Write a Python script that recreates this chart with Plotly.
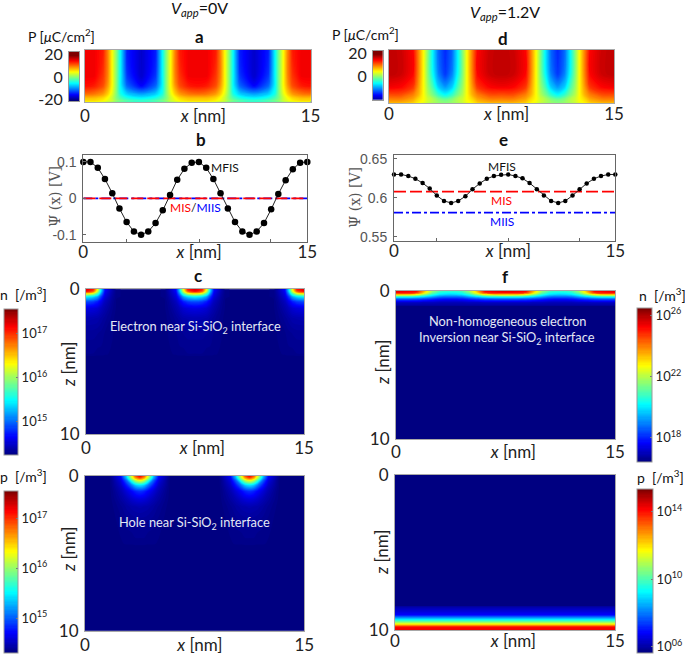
import plotly.graph_objects as go

W, H = 685, 654
FONT = "Lato"
JET = [[0, "rgb(0,0,125)"], [0.125, "rgb(0,0,255)"], [0.375, "rgb(0,255,255)"],
       [0.625, "rgb(255,255,0)"], [0.875, "rgb(255,0,0)"], [1, "rgb(127,0,0)"]]

# ---------- data ----------
# P maps: rows by depth, columns by distance from a polarisation peak (0..3.75 nm)
P_A_D = [0, .6, 1.2, 1.5, 1.8, 2.1, 2.35, 2.8, 3.75]
P_A_Z = [0, .5, .7, .85, .93, 1]
P_A = [[15.5, 15.5, 14, 10, 5, 0, -5, -14, -17],
       [15.5, 15.5, 13, 10, 5, 0, -5, -13, -17],
       [14.5, 14, 12, 9, 5, 0, -5, -11, -15],
       [11, 10.5, 9, 7, 4, 0, -4, -7, -9],
       [7.5, 7.5, 6.5, 5, 3, 0, -2, -4, -5.5],
       [6, 6, 5, 4, 3, 1, 0, -1, -2]]
P_D_D = [0, .8, 1.6, 1.95, 2.3, 2.6, 2.9, 3.3, 3.75]
P_D_Z = [0, .45, .7, .85, .93, 1]
P_D = [[17.5, 17, 15, 10, 5, 0, -5, -11, -13.5],
       [17.5, 17, 15, 10, 5, 0, -4.5, -10, -13],
       [15.5, 15, 13, 9, 5, 1, -2, -7, -9],
       [12, 12, 10, 8, 5, 2, 0, -3, -5],
       [10, 10, 8.5, 6.5, 5, 3, 2, 0, -1],
       [8, 8, 7, 5.5, 4.5, 3, 2, 1, .5]]

# log10 carrier density; columns by distance from a peak
N_C_D = [0, .5, .8, 1.05, 1.3, 1.8, 2.1, 3.75]
N_C_Z = [0, .15, .3, .5, .85, 1.3, 2, 3, 4.5, 4.7, 10]
N_C = [[17.3, 17.1, 16.3, 15.4, 14.7, 14.4, 14.28, 14.255],
       [17.1, 16.8, 16.1, 15.3, 14.65, 14.4, 14.28, 14.255],
       [16.3, 16.1, 15.7, 15.1, 14.6, 14.38, 14.28, 14.255],
       [15.5, 15.4, 15.2, 14.85, 14.55, 14.36, 14.28, 14.255],
       [14.9, 14.85, 14.75, 14.6, 14.46, 14.33, 14.27, 14.255],
       [14.58, 14.56, 14.52, 14.46, 14.4, 14.31, 14.27, 14.255],
       [14.42, 14.41, 14.4, 14.37, 14.34, 14.29, 14.26, 14.255],
       [14.34, 14.34, 14.33, 14.32, 14.3, 14.28, 14.26, 14.255],
       [14.3, 14.3, 14.29, 14.29, 14.28, 14.27, 14.26, 14.255],
       [14.255, 14.255, 14.255, 14.255, 14.255, 14.255, 14.255, 14.255],
       [14.255, 14.255, 14.255, 14.255, 14.255, 14.255, 14.255, 14.255]]
P_C_D = [0, .3, .55, .9, 1.3, 1.9, 2.1, 3.75]
P_C_Z = [0, .15, .3, .6, 1, 1.5, 2, 3, 4.4, 4.6, 10]
P_C = [[17.2, 16.9, 16.3, 15.4, 14.7, 14.38, 14.3, 14.295],
       [16.9, 16.6, 16.1, 15.3, 14.65, 14.38, 14.3, 14.295],
       [16.3, 16.1, 15.7, 15.05, 14.6, 14.36, 14.3, 14.295],
       [15.45, 15.35, 15.1, 14.8, 14.52, 14.35, 14.3, 14.295],
       [14.85, 14.8, 14.7, 14.58, 14.45, 14.33, 14.3, 14.295],
       [14.6, 14.58, 14.54, 14.47, 14.4, 14.32, 14.3, 14.295],
       [14.45, 14.44, 14.43, 14.4, 14.36, 14.31, 14.3, 14.295],
       [14.37, 14.37, 14.36, 14.35, 14.33, 14.3, 14.3, 14.295],
       [14.33, 14.33, 14.32, 14.32, 14.31, 14.3, 14.3, 14.295],
       [14.295, 14.295, 14.295, 14.295, 14.295, 14.295, 14.295, 14.295],
       [14.295, 14.295, 14.295, 14.295, 14.295, 14.295, 14.295, 14.295]]
N_F_D = [0, 1.4, 2.0, 2.5, 3.0, 3.75]
N_F_Z = [0, .13, .25, .38, .55, .8, 1.0, 1.05, 10]
N_F = [[25.6, 25.3, 23.3, 21.8, 21, 20.8],
       [25.2, 24.7, 22.8, 21.3, 20.5, 20.3],
       [23.2, 22.6, 21.5, 20.6, 20, 19.8],
       [20.8, 20.5, 20, 19.5, 19, 18.9],
       [18.6, 18.5, 18.3, 18.1, 17.9, 17.8],
       [17.1, 17.1, 17.05, 17.05, 17.0, 17.0],
       [16.75, 16.75, 16.75, 16.75, 16.75, 16.75],
       [16.47, 16.47, 16.47, 16.47, 16.47, 16.47],
       [16.47, 16.47, 16.47, 16.47, 16.47, 16.47]]
P_F_X = [0, 15]
P_F_Z = [0, 8.45, 8.5, 9.03, 9.35, 9.63, 9.82, 10]
P_F_PROFILE = [5.65, 5.65, 6.0, 6.82, 9.25, 11.7, 14.1, 14.3]

# surface potential curves
PSI_X = [0, .48, .97, 1.45, 1.94, 2.42, 2.9, 3.39, 3.87, 4.35, 4.84, 5.32, 5.81, 6.29, 6.77, 7.26,
         7.74, 8.23, 8.71, 9.19, 9.68, 10.16, 10.65, 11.13, 11.61, 12.1, 12.58, 13.06, 13.55, 14.03, 14.52, 15]
PSI_B = [.1, .1, .084, .053, .014, -.028, -.065, -.091, -.1, -.091, -.068, -.033, .009, .051, .081, .098,
         .1, .084, .053, .014, -.028, -.065, -.091, -.1, -.091, -.068, -.03, .012, .05, .08, .098, .1]
PSI_E = [.63, .63, .628, .6245, .619, .612, .603, .596, .5935, .596, .602, .611, .6185, .6245, .628, .6295,
         .63, .628, .625, .619, .611, .603, .596, .5935, .596, .603, .611, .6185, .6245, .628, .63, .63]
LINE_X = [0, 15]
MIS_B = [0, 0]
MIIS_B = [0, 0]
MIS_E = [.608, .608]
MIIS_E = [.581, .581]
P_SCALE = [-20, 0, 20]

# ---------- helpers ----------
def hx(p): return p / W
def vy(p): return 1 - p / H

def peak_x(d): return [*d, *[7.5 - v for v in d[-2::-1]], *[7.5 + v for v in d[1:]], *[15 - v for v in d[-2::-1]]]
def peak_row(q): return [*q, *q[-2::-1], *q[1:], *q[-2::-1]]
def trough_x(d): return [*[3.75 - v for v in d[::-1]], *[3.75 + v for v in d[1:]], *[11.25 - v for v in d[-2::-1]], *[11.25 + v for v in d[1:]]]
def trough_row(q): return [*q[::-1], *q[1:], *q[-2::-1], *q[1:]]

fig = go.Figure()
layout = {}
axis_no = [0]
ANN = []

def axes(box, xr, yr, xt, xl, yt=None, yl=None, frame="#a8a8a8", xticks="", yticks="", yfont=None, xstand=0, ystand=2):
    axis_no[0] += 1
    n = axis_no[0]
    sfx = "" if n == 1 else str(n)
    l, t, r, b = box
    layout["xaxis" + sfx] = dict(domain=[hx(l), hx(r)], range=xr, anchor="y" + sfx, tickvals=xt, ticktext=xl,
                                 showgrid=False, zeroline=False, showline=True, mirror=True, linecolor=frame, linewidth=1,
                                 ticks=xticks, ticklen=3, tickcolor=frame, ticklabelstandoff=xstand,
                                 tickfont=dict(family=FONT, size=17, color="#222"), tickangle=0)
    ya = dict(domain=[vy(b), vy(t)], range=yr, anchor="x" + sfx, showgrid=False, zeroline=False, showline=True,
              mirror=True, linecolor=frame, linewidth=1, ticks=yticks, ticklen=3, tickcolor=frame, ticklabelstandoff=ystand,
              tickfont=yfont or dict(family=FONT, size=17, color="#222"))
    if yt is None:
        ya.update(showticklabels=False, tickvals=[])
    else:
        ya.update(tickvals=yt, ticktext=yl)
    layout["yaxis" + sfx] = ya
    return "x" + sfx, "y" + sfx

def text(x, y, s, size=16, color="#111", angle=0, family=FONT):
    ANN.append(dict(x=hx(x), y=vy(y), xref="paper", yref="paper", text=s, showarrow=False, textangle=angle,
                    xanchor="center", yanchor="middle", font=dict(family=family, size=size, color=color)))

def cbar(box, tickvals, ticktext):
    l, t, r, b = box
    return dict(x=hx(l), xanchor="left", xpad=0, y=vy(b), yanchor="bottom", ypad=0, lenmode="pixels", len=b - t,
                thicknessmode="pixels", thickness=r - l, tickvals=tickvals, ticktext=ticktext, ticks="inside", ticklen=2,
                tickcolor="#777", outlinecolor="#999", outlinewidth=1, ticklabelposition="outside",
                ticklabeloverflow="allow", tickfont=dict(family=FONT, size=13, color="#222"))

def heat(box, xs, zs, table, zr, xtick, cb=None, yt=(0, 10), yl=("0", "10"), yr=(10, 0), xstand=-2):
    xa, ya = axes(box, [0, 15], list(yr), [0, xtick, 15], ["0", "<i>x</i> [nm]", "15"],
                  list(yt) if yt else None, list(yl) if yl else None, xstand=xstand)
    fig.add_trace(go.Contour(x=xs, y=zs, z=table, zmin=zr[0], zmax=zr[1], colorscale=JET, autocontour=False,
                             contours=dict(start=zr[0], end=zr[1], size=(zr[1] - zr[0]) / 128, coloring="fill", showlines=False),
                             line=dict(width=0), xaxis=xa, yaxis=ya, showscale=cb is not None, colorbar=cb, hoverinfo="skip"))

def small_bar(box, rng):
    xa, ya = axes(box, [0, 1], rng, [], [], P_SCALE, ["-20", "0", "20"], frame="#999",
                  yfont=dict(family=FONT, size=16, color="#222"))
    fig.add_trace(go.Heatmap(x=[0, 1], y=P_SCALE, z=[[v, v] for v in P_SCALE], zmin=-20, zmax=20, colorscale=JET,
                             zsmooth="best", xaxis=xa, yaxis=ya, showscale=False, hoverinfo="skip"))

def sup(vals, fmt="10<sup>{:02d}</sup>"): return [fmt.format(v) for v in vals]

# a, d: polarisation
heat((85, 50, 310.5, 101.5), peak_x(P_A_D), P_A_Z, [peak_row(r) for r in P_A], (-20, 20), 7.87, yt=None, yl=None, yr=(1, 0), xstand=-1)
heat((389, 50, 614, 102.7), peak_x(P_D_D), P_D_Z, [peak_row(r) for r in P_D], (-20, 20), 7.84, yt=None, yl=None, yr=(1, 0), xstand=-4)
small_bar((69, 52, 79, 101), [-21, 22.5])
small_bar((373, 50.7, 382.7, 100), [-19.6, 22.2])

# b, e: potential
def curves(box, yr, yt, yl, ymis, ymiis, ypsi, msize, ticks):
    gray = dict(family="Liberation Sans", size=14, color="#555")
    xa, ya = axes(box, [0, 15], yr, [0, *ticks, 15], ["0", " ", "<i>x</i> [nm]", " ", "15"], yt, yl,
                  frame="#666", xticks="inside", yticks="inside", yfont=gray, xstand=-5, ystand=3)
    fig.add_trace(go.Scatter(x=LINE_X, y=ymiis, mode="lines", line=dict(color="#0000FF", width=1.8, dash="dashdot"),
                             xaxis=xa, yaxis=ya, hoverinfo="skip", showlegend=False))
    fig.add_trace(go.Scatter(x=LINE_X, y=ymis, mode="lines", line=dict(color="#FF0000", width=1.8, dash="12px,4px"),
                             xaxis=xa, yaxis=ya, hoverinfo="skip", showlegend=False))
    fig.add_trace(go.Scatter(x=PSI_X, y=ypsi, mode="lines+markers", line=dict(color="#222", width=1),
                             marker=dict(color="black", size=msize), cliponaxis=False,
                             xaxis=xa, yaxis=ya, hoverinfo="skip", showlegend=False))

curves((83.3, 155, 307.3, 241.7), [-.119, .119], [-.1, 0, .1], ["-0.1", "0", "0.1"], MIS_B, MIIS_B, PSI_B, 6.5, [2.9, 7.75, 12.55])
curves((394, 155, 615.3, 240.7), [.545, .655], [.55, .6, .65], ["0.55", "0.6", "0.65"], MIS_E, MIIS_E, PSI_E, 4.5, [2.9, 7.75, 12.55])

# c, f: carriers
heat((86, 289.3, 304, 434), peak_x(N_C_D), N_C_Z, [peak_row(r) for r in N_C], (14.25, 17.56), 8.0,
     cb=cbar((4, 309.3, 18, 455), [15, 16, 17], sup([15, 16, 17])), xstand=-1)
heat((396, 290.7, 615, 439), peak_x(N_F_D), N_F_Z, [peak_row(r) for r in N_F], (16.43, 26.5), 8.04,
     cb=cbar((637.3, 307.3, 652.3, 461.7), [18, 22, 26], sup([18, 22, 26])))
heat((85, 475.7, 304.3, 630.7), trough_x(P_C_D), P_C_Z, [trough_row(r) for r in P_C], (14.29, 17.55), 7.86,
     cb=cbar((4, 491.7, 18, 653.3), [15, 16, 17], sup([15, 16, 17])), xstand=-1)
heat((395, 475, 615, 630), P_F_X, P_F_Z, [[v, v] for v in P_F_PROFILE], (5.6, 15.34), 8.07,
     cb=cbar((636.7, 489, 652.7, 653.3), [6, 10, 14], sup([6, 10, 14])), xstand=-4)

# text
text(199, 8.5, "<i>V<sub>app</sub></i>=0V", 16)
text(505, 12, "<i>V<sub>app</sub></i>=1.2V", 16)
for x, y, s in [(199, 36, "a"), (503, 39, "d"), (201, 140, "b"), (504, 140, "e"), (198, 275, "c"), (505, 276, "f")]:
    text(x, y, f"<b>{s}</b>", 17)
PLABEL = "P [<i>μ</i>C/cm<sup>2</sup>]"
text(61, 35, PLABEL, 14)
text(366, 34, PLABEL, 14)
text(55, 197, "Ψ (x) [V]", 14, "#555", -90, "DejaVu Serif")
text(355, 198, "Ψ (x) [V]", 14, "#555", -90, "DejaVu Serif")
for x, y in [(68, 365), (382, 363), (68, 550), (381, 553)]:
    text(x, y, "<i>z</i> [nm]", 17, "#222", -90)
text(225, 167, "MFIS", 12)
text(196, 207, '<span style="color:#FF0000">MIS</span>/<span style="color:#0000FF">MIIS</span>', 12)
text(502, 166, "MFIS", 12)
text(501, 200, "MIS", 12, "#FF0000")
text(502, 222, "MIIS", 12, "#0000FF")
text(196, 327, "Electron near Si-SiO<sub>2</sub> interface", 12.8, "#E4E8F5")
text(507, 321, "Non-homogeneous electron", 12.8, "#E4E8F5")
text(507, 338, "Inversion near Si-SiO<sub>2</sub> interface", 12.8, "#E4E8F5")
text(194, 523, "Hole near Si-SiO<sub>2</sub> interface", 12.8, "#E4E8F5")
NB = "\u00a0\u00a0"
text(23, 293, f"n{NB}[/m<sup>3</sup>]", 14)
text(662, 294, f"n{NB}[/m<sup>3</sup>]", 14)
text(23, 475, f"p{NB}[/m<sup>3</sup>]", 14)
text(660, 476, f"p{NB}[/m<sup>3</sup>]", 14)

fig.update_layout(width=W, height=H, margin=dict(l=0, r=0, t=0, b=0, autoexpand=False), paper_bgcolor="white",
                  plot_bgcolor="white", showlegend=False, annotations=ANN, font=dict(family=FONT), **layout)
fig.write_html("out.html", post_script="document.body.style.margin='0';document.body.style.overflow='hidden';",
               config={"displayModeBar": False})
